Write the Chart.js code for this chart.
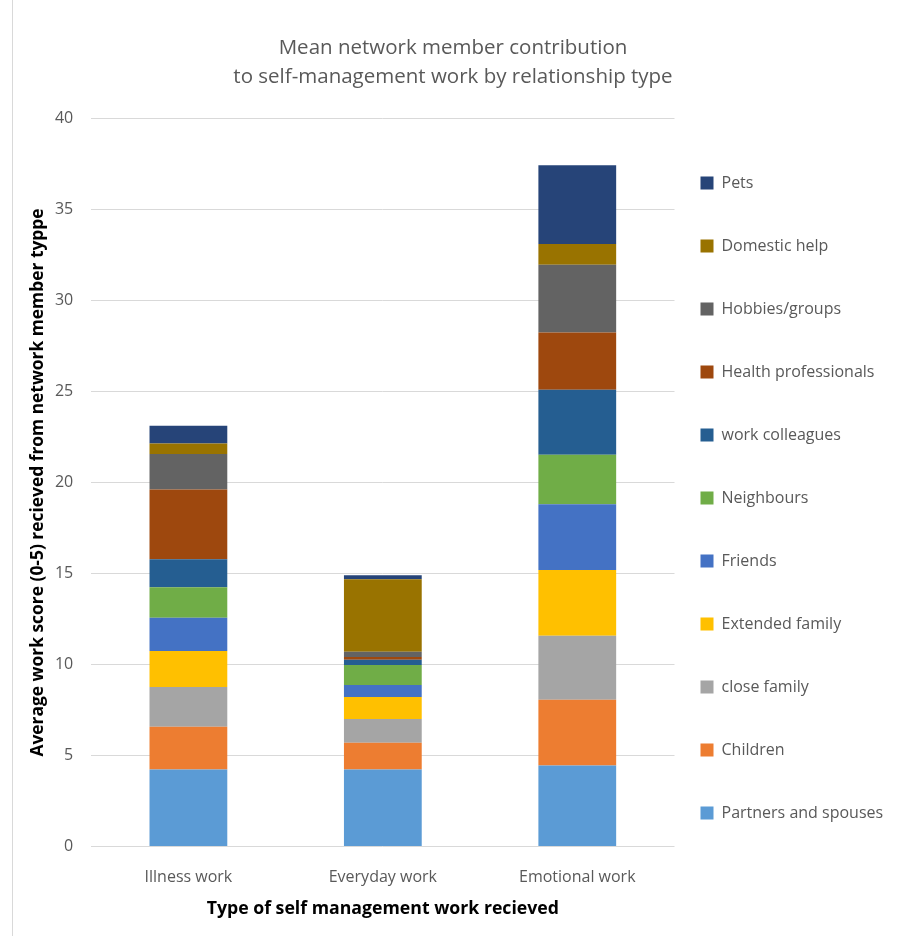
<!DOCTYPE html>
<html>
<head>
<meta charset="utf-8">
<script src="https://cdn.jsdelivr.net/npm/chart.js@4.4.0/dist/chart.umd.min.js"></script>
<style>
  body { margin: 0; background: #fff; }
  #wrap { position: relative; width: 901px; height: 936px; }
  #frame { position: absolute; left: 12px; top: 0; width: 1px; height: 936px; background: #d9d9d9; }
  canvas { position: absolute; left: 0; top: 0; }
</style>
</head>
<body>
<div id="wrap">
  <canvas id="myChart" width="901" height="936"></canvas>
  <div id="frame"></div>
</div>
<script>
// categories on the x axis
const categories = ['Illness work', 'Everyday work', 'Emotional work'];

// relationship types (stack order, bottom to top)
const relationTypes = ['Partners and spouses', 'Children', 'close family', 'Extended family',
  'Friends', 'Neighbours', 'work colleagues', 'Health professionals', 'Hobbies/groups',
  'Domestic help', 'Pets'];

// values: illness, everyday, emotional
const partners = [4.24, 4.23, 4.45];
const children = [2.34, 1.47, 3.62];
const closeFamily = [2.19, 1.31, 3.51];
const extendedFamily = [1.97, 1.21, 3.61];
const friends = [1.83, 0.66, 3.62];
const neighbours = [1.68, 1.09, 2.72];
const workColleagues = [1.53, 0.29, 3.57];
const healthProfessionals = [3.84, 0.15, 3.14];
const hobbies = [1.95, 0.29, 3.72];
const domesticHelp = [0.57, 3.98, 1.14];
const pets = [0.98, 0.22, 4.32];

const seriesValues = [partners, children, closeFamily, extendedFamily, friends, neighbours,
  workColleagues, healthProfessionals, hobbies, domesticHelp, pets];

const colors = ['#5B9BD5', '#ED7D31', '#A5A5A5', '#FFC000', '#4472C4', '#70AD47',
  '#255E91', '#9E480E', '#636363', '#997300', '#264478'];

const titleLines = ['Mean network member contribution', 'to self-management work by relationship type'];
const yTitle = 'Average work score (0-5) recieved from network member typpe';
const xTitle = 'Type of self management work recieved';

const fontFamily = '"Open Sans", "Noto Sans", sans-serif';

let datasets = [];
for (let i = 0; i < relationTypes.length; i++) {
  datasets.push({
    label: relationTypes[i],
    data: seriesValues[i],
    backgroundColor: colors[i],
    borderWidth: 0,
    barPercentage: 0.4,
    categoryPercentage: 1.0
  });
}

// pull the legend closer to the plot (Chart.js puts the full padding on its left)
// and move it a bit down like in the original
const legendShift = {
  id: 'legendShift',
  afterUpdate(chart) {
    chart.legend.left -= 21;
    chart.legend.top += 36;
    chart.legend.bottom += 36;
  }
};

const ctx = document.getElementById('myChart').getContext('2d');
const myChart = new Chart(ctx, {
  type: 'bar',
  data: {
    labels: categories,
    datasets: datasets
  },
  options: {
    responsive: false,
    animation: false,
    devicePixelRatio: 1,
    layout: {
      padding: { left: 10, right: 5, top: 0, bottom: 12 }
    },
    plugins: {
      title: {
        display: true,
        text: titleLines,
        color: '#595959',
        font: { family: fontFamily, size: 20.5, weight: 'normal', lineHeight: 1.4 },
        padding: { top: 34, bottom: 27 }
      },
      legend: {
        position: 'right',
        reverse: true,
        labels: {
          boxWidth: 13,
          boxHeight: 13,
          padding: 47,
          color: '#595959',
          font: { family: fontFamily, size: 16 }
        }
      },
      tooltip: { enabled: false }
    },
    scales: {
      x: {
        stacked: true,
        grid: { display: false },
        border: { display: false },
        ticks: {
          color: '#595959',
          font: { family: fontFamily, size: 16 },
          padding: 13
        },
        title: {
          display: true,
          text: xTitle,
          color: '#000',
          font: { family: fontFamily, size: 17.7, weight: 'bold' },
          padding: { top: -1 }
        }
      },
      y: {
        stacked: true,
        min: 0,
        max: 40,
        grid: { color: '#d9d9d9', lineWidth: 1, drawTicks: false },
        border: { display: false },
        ticks: {
          stepSize: 5,
          color: '#595959',
          font: { family: fontFamily, size: 16 },
          padding: 18
        },
        title: {
          display: true,
          text: yTitle,
          color: '#000',
          font: { family: fontFamily, size: 17.4, weight: 'bold' },
          padding: { top: 18, bottom: -12 }
        }
      }
    }
  },
  plugins: [legendShift]
});
</script>
</body>
</html>
